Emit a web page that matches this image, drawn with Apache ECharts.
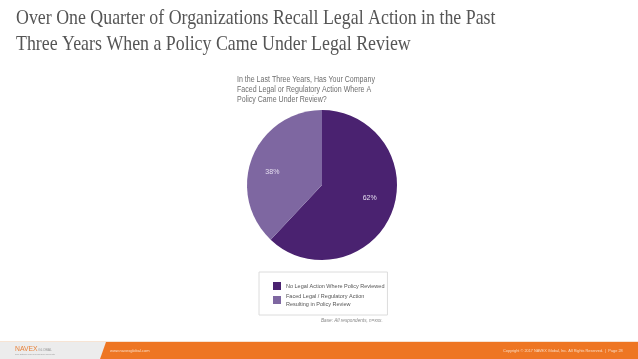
<!DOCTYPE html>
<html><head><meta charset="utf-8">
<script src="https://cdn.jsdelivr.net/npm/echarts@6/dist/echarts.min.js"></script>
<style>html,body{margin:0;padding:0;background:#fff}#c{width:638px;height:359px}</style>
</head><body><div id="c"></div>
<script>
const categories = ["No Legal Action Where Policy Reviewed", "Faced Legal / Regulatory Action\nResulting in Policy Review"];
const values = [62, 38];
const colors = ["#4a2270", "#7e67a1"];
const labelOffsets = [[10, -2], [-12, 2]];

const chart = echarts.init(document.getElementById('c'), null, {renderer: 'canvas'});
chart.setOption({
  animation: false,
  backgroundColor: '#ffffff',
  legend: {
    orient: 'vertical', left: 259, top: 272,
    padding: [10, 3, 7, 14], itemGap: 2,
    itemWidth: 8, itemHeight: 8, icon: 'rect',
    borderColor: '#dcdcdc', borderWidth: 1,
    textStyle: {fontFamily: 'Liberation Sans', fontSize: 5.5, color: '#555', lineHeight: 8}
  },
  series: [{
    type: 'pie', center: [322, 185], radius: 75, startAngle: 90, clockwise: true,
    label: {position: 'inside', formatter: '{c}%', color: '#e4ddef', fontSize: 7, fontFamily: 'Liberation Sans'},
    labelLine: {show: false},
    itemStyle: {borderWidth: 0},
    data: categories.map((n, i) => ({name: n, value: values[i], itemStyle: {color: colors[i]}, label: {offset: labelOffsets[i]}}))
  }],
  graphic: [
    {type: 'text', x: 16, y: 6, scaleX: 0.85, style: {text: 'Over One Quarter of Organizations Recall Legal Action in the Past\nThree Years When a Policy Came Under Legal Review', font: '21px "Liberation Serif"', fill: '#555555', lineHeight: 25.5}},
    {type: 'text', x: 237, y: 75, scaleX: 0.83, style: {text: 'In the Last Three Years, Has Your Company\nFaced Legal or Regulatory Action Where A\nPolicy Came Under Review?', font: '8.5px "Liberation Sans"', fill: '#6e6e6e', lineHeight: 10}},
    {type: 'text', x: 321, y: 317, scaleX: 0.85, style: {text: 'Base: All respondents, n=xxx.', font: 'italic 5.5px "Liberation Sans"', fill: '#888'}},
    {type: 'rect', shape: {x: 0, y: 342, width: 638, height: 17}, style: {fill: '#ececec'}, z: -1},
    {type: 'line', shape: {x1: 0, y1: 341.5, x2: 638, y2: 341.5}, style: {stroke: '#f7e4d4', lineWidth: 1}},
    {type: 'polygon', shape: {points: [[106, 342], [638, 342], [638, 359], [100, 359]]}, style: {fill: '#ee7623'}},
    {type: 'text', x: 15, y: 345, scaleX: 0.85, style: {text: 'NAVEX', font: '8px "Liberation Sans"', fill: '#e8823a'}},
    {type: 'text', x: 38, y: 348, style: {text: 'GLOBAL', font: '3.5px "Liberation Sans"', fill: '#999'}},
    {type: 'text', x: 15, y: 353, style: {text: 'The Ethics and Compliance Experts', font: '2.5px "Liberation Sans"', fill: '#999'}},
    {type: 'text', x: 110, y: 349, style: {text: 'www.navexglobal.com', font: '4px "Liberation Sans"', fill: '#fbdcc4'}},
    {type: 'text', x: 503, y: 349, scaleX: 0.96, style: {text: 'Copyright © 2017 NAVEX Global, Inc. All Rights Reserved.  |  Page 28', font: '4px "Liberation Sans"', fill: '#fbdcc4'}}
  ]
});
</script></body></html>
